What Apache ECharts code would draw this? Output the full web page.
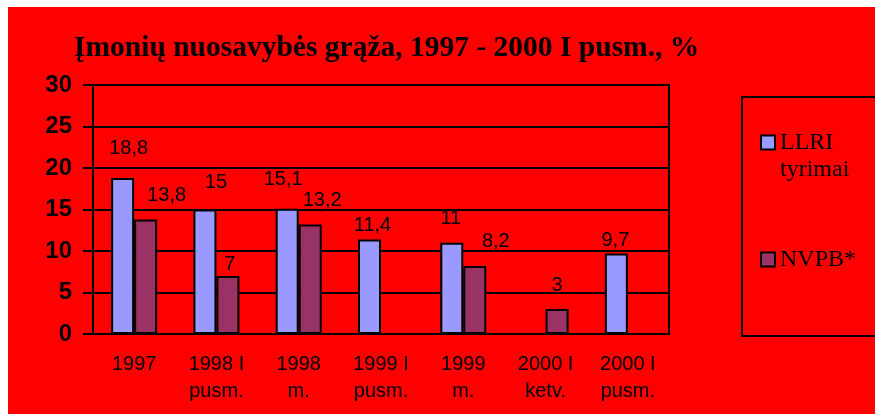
<!DOCTYPE html>
<html>
<head>
<meta charset="utf-8">
<script src="https://cdn.jsdelivr.net/npm/echarts@6/dist/echarts.min.js"></script>
<style>
html,body{margin:0;padding:0;background:#fff;}
#wrap{position:relative;width:875px;height:414px;overflow:hidden;background:#fff;}
#chart{position:absolute;left:8px;top:7px;width:867px;height:407px;}
</style>
</head>
<body>
<div id="wrap"><div id="chart"></div></div>
<script>
const titleText = 'Įmonių nuosavybės grąža, 1997 - 2000 I pusm., %';
const categories = ['1997', '1998 I\npusm.', '1998\nm.', '1999 I\npusm.', '1999\nm.', '2000 I\nketv.', '2000 I\npusm.'];
const seriesNames = ['LLRI\ntyrimai', 'NVPB*'];
const llriValues = [18.8, 15, 15.1, 11.4, 11, null, 9.7];
const nvpbValues = [13.8, 7, 13.2, null, 8.2, 3, null];
const yTicks = [0, 5, 10, 15, 20, 25, 30];
// label nudges (style only): [dx, dy]
const llriLabelNudge = [[6,-14],[11,-12],[-4,-14],[3,1],[-1,-9],[0,0],[-1,2]];
const nvpbLabelNudge = [[21,-9],[2,4],[12,-9],[0,0],[21,-9],[0,-9],[0,0]];

function buildData(values, nudges) {
  return values.map((v, i) => v === null ? '-' : ({
    value: v,
    label: { offset: nudges[i] }
  }));
}

const chart = echarts.init(document.getElementById('chart'), null, {renderer: 'canvas'});
const labelCfg = {
  show: true,
  position: 'top',
  distance: 5,
  color: '#000',
  fontFamily: 'Liberation Sans, Arial',
  fontSize: 20,
  formatter: p => String(p.value).replace('.', ',')
};
chart.setOption({
  backgroundColor: '#FF0000',
  animation: false,
  title: {
    text: titleText,
    left: 66,
    top: 26,
    padding: 0,
    textStyle: { fontFamily: 'Liberation Serif, Times New Roman', fontWeight: 'bold', fontSize: 29.5, color: '#000' }
  },
  legend: {
    orient: 'vertical',
    left: 734,
    top: 90,
    padding: [5, 60, 63, 18],
    itemGap: 63,
    itemWidth: 14,
    itemHeight: 14,
    icon: 'rect',
    borderColor: '#000',
    borderWidth: 2,
    textStyle: { fontFamily: 'Liberation Serif, Times New Roman', fontSize: 24, lineHeight: 27, color: '#000' },
    formatter: name => name.indexOf('\n') >= 0 ? '\n' + name : name,
    data: seriesNames
  },
  grid: {
    left: 85, top: 78, right: 206, bottom: 80,
    show: true, borderColor: '#000', borderWidth: 2, backgroundColor: 'transparent'
  },
  xAxis: {
    type: 'category',
    data: categories,
    axisLine: { lineStyle: { color: '#000', width: 2 } },
    axisTick: { length: 7, lineStyle: { color: '#000', width: 2 } },
    axisLabel: { color: '#000', fontFamily: 'Liberation Sans, Arial', fontSize: 20, lineHeight: 27, margin: 17, interval: 0 }
  },
  yAxis: {
    type: 'value',
    min: yTicks[0], max: yTicks[yTicks.length - 1], interval: 5,
    axisLine: { show: true, lineStyle: { color: '#000', width: 2 } },
    axisTick: { show: true, length: 10, lineStyle: { color: '#000', width: 2 } },
    splitLine: { lineStyle: { color: '#000', width: 2 } },
    axisLabel: { color: '#000', fontFamily: 'Liberation Sans, Arial', fontWeight: 'bold', fontSize: 24, margin: 21 }
  },
  series: [
    {
      name: seriesNames[0], type: 'bar', barWidth: 23, barGap: '0%',
      itemStyle: { color: '#9999FF', borderColor: '#000', borderWidth: 2 },
      label: labelCfg,
      data: buildData(llriValues, llriLabelNudge)
    },
    {
      name: seriesNames[1], type: 'bar', barWidth: 23, barGap: '0%',
      itemStyle: { color: '#993366', borderColor: '#000', borderWidth: 2 },
      label: labelCfg,
      data: buildData(nvpbValues, nvpbLabelNudge)
    }
  ]
});
</script>
</body>
</html>
